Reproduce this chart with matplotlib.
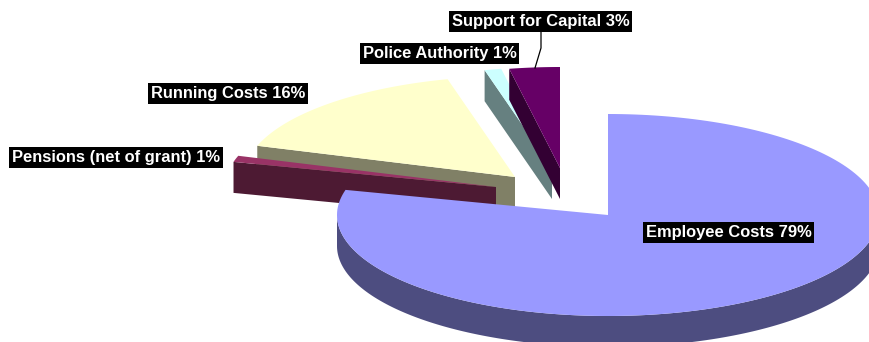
import numpy as np
import matplotlib
matplotlib.use("Agg")
import matplotlib.pyplot as plt

# DATA
categories = ["Employee Costs", "Pensions (net of grant)", "Running Costs", "Police Authority", "Support for Capital"]
shares = [79, 1, 16, 1, 3]

# STYLE
top_colours = ["#9999FF", "#993366", "#FFFFCC", "#CCFFFF", "#660066"]
wall_colours = ["#4D4D80", "#4D1A33", "#808066", "#668080", "#330033"]
slice_centres = [(608, 215), (496, 187), (515, 177), (552, 168), (560, 168)]
label_centres = [(728.5, 232.5), (116, 157.5), (228, 93.5), (439.5, 53.5), (540.5, 21.5)]
draw_order = [2, 1, 3, 4, 0]

rx, ry = 271, 101  # ellipse radii of the tilted pie
depth = 31


def rim(cx, cy, start, end):
    # angles in degrees, clockwise from 12 o'clock
    a = np.radians(np.linspace(start, end, 200))
    return cx + rx * np.sin(a), cy - ry * np.cos(a)


fig = plt.figure(figsize=(8.7, 3.42), dpi=100)
ax = fig.add_axes([0, 0, 1, 1])
ax.set_xlim(0, 870)
ax.set_ylim(342, 0)
ax.axis("off")

edges = np.concatenate([[0], np.cumsum(shares)]) * 3.6

for i in draw_order:
    cx, cy = slice_centres[i]
    start, end = edges[i], edges[i + 1]
    x, y = rim(cx, cy, start, end)

    if i == 0:
        # front of the big slice, only the arc facing the viewer
        wx, wy = rim(cx, cy, 90, 270)
        ax.fill(np.r_[wx, wx[::-1]], np.r_[wy, wy[::-1] + depth], color=wall_colours[i], lw=0)
    else:
        # radial cut face of the pulled-out slices
        ax.fill([x[0], cx, cx, x[0]], [y[0], cy, cy + depth, y[0] + depth], color=wall_colours[i], lw=0)

    ax.fill(np.r_[cx, x], np.r_[cy, y], color=top_colours[i], lw=0)

# leader line for the small top slice
ax.plot([541, 541, 535], [31, 48, 68], color="black", lw=0.9, solid_joinstyle="round")

for name, share, (lx, ly) in zip(categories, shares, label_centres):
    ax.text(lx, ly, f"{name} {share}%", color="white", fontsize=11.9, fontweight="bold",
            family="Liberation Sans", ha="center", va="center",
            bbox=dict(facecolor="black", edgecolor="none", pad=1.9))

fig.savefig("out.png", dpi=100)
